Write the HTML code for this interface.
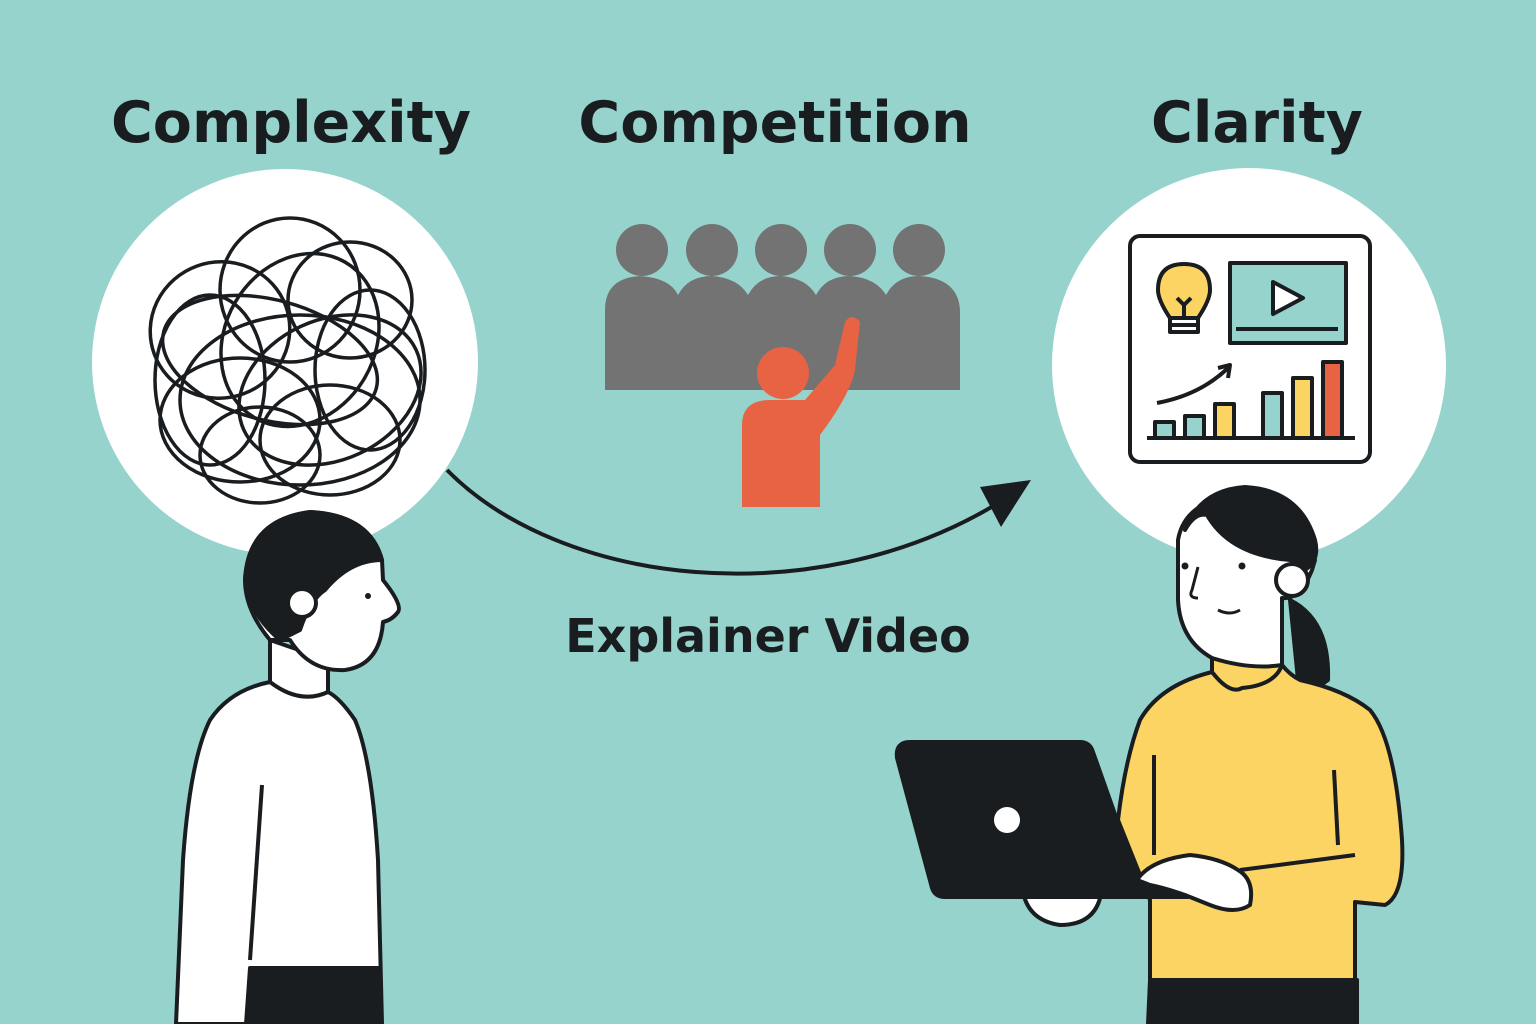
<!DOCTYPE html>
<html><head><meta charset="utf-8"><style>
html,body{margin:0;padding:0;background:#96d3cd;}
svg{display:block}
text{font-family:"DejaVu Sans","Liberation Sans",sans-serif;font-weight:bold;fill:#1a1d20}
</style></head><body>
<svg width="1536" height="1024" viewBox="0 0 1536 1024" xmlns="http://www.w3.org/2000/svg">
<rect width="1536" height="1024" fill="#96d3cd"/>
<text x="291" y="142" font-size="57" text-anchor="middle">Complexity</text>
<text x="775" y="142" font-size="57" text-anchor="middle">Competition</text>
<text x="1257" y="142" font-size="57" text-anchor="middle">Clarity</text>
<text x="768" y="652" font-size="46" text-anchor="middle">Explainer Video</text>

<circle cx="285" cy="362" r="193" fill="#fff"/>
<circle cx="1249" cy="365" r="197" fill="#fff"/>

<!-- scribble -->
<g fill="none" stroke="#1a1d20" stroke-width="3.5">
<ellipse cx="290" cy="290" rx="70" ry="72"/>
<ellipse cx="220" cy="330" rx="70" ry="68" transform="rotate(-20 220 330)"/>
<ellipse cx="350" cy="300" rx="62" ry="58"/>
<ellipse cx="270" cy="360" rx="110" ry="60" transform="rotate(15 270 360)"/>
<ellipse cx="330" cy="390" rx="95" ry="70" transform="rotate(-25 330 390)"/>
<ellipse cx="240" cy="420" rx="80" ry="62"/>
<ellipse cx="330" cy="440" rx="70" ry="55"/>
<ellipse cx="260" cy="455" rx="60" ry="48"/>
<ellipse cx="300" cy="340" rx="75" ry="90" transform="rotate(30 300 340)"/>
<ellipse cx="370" cy="370" rx="55" ry="80"/>
<ellipse cx="210" cy="380" rx="55" ry="85"/>
<ellipse cx="300" cy="400" rx="120" ry="85"/>
</g>

<!-- competition crowd -->
<g fill="#737373">
<circle cx="642" cy="250" r="26"/><circle cx="712" cy="250" r="26"/><circle cx="781" cy="250" r="26"/><circle cx="850" cy="250" r="26"/><circle cx="919" cy="250" r="26"/>
<path d="M605 390 V310 Q605 278 640 276 Q670 278 678 295 Q688 276 712 276 Q738 278 748 295 Q758 276 781 276 Q806 278 816 295 Q826 276 850 276 Q876 278 886 295 Q896 276 919 276 Q958 278 960 310 V390 Z"/>
</g>
<g fill="#e86343">
<circle cx="783" cy="373" r="26"/>
<path d="M742 507 V425 Q742 400 770 400 H805 L835 365 L845 322 Q852 312 860 322 L855 370 Q850 395 820 435 V507 Z"/>
</g>

<!-- arrow -->
<path d="M447 470 C560 585 810 615 995 505" fill="none" stroke="#1a1d20" stroke-width="4"/>
<path d="M1031 480 L980 487 L1001 527 Z" fill="#1a1d20"/>

<!-- clarity board -->
<g stroke="#1a1d20" stroke-width="4" stroke-linejoin="round">
<rect x="1130" y="236" width="240" height="226" rx="10" fill="#fff"/>
<rect x="1230" y="263" width="116" height="80" fill="#96d3cd"/>
<line x1="1236" y1="329" x2="1338" y2="329"/>
<path d="M1273 282 L1303 298 L1273 314 Z" fill="#fff"/>
<path d="M1170 318 Q1158 300 1158 290 Q1158 264 1184 264 Q1210 264 1210 290 Q1210 300 1198 318 Z" fill="#fbd463"/>
<path d="M1177 298 L1184 305 L1191 298 M1184 305 V318" fill="none"/>
<rect x="1170" y="318" width="28" height="14" fill="#fff"/>
<line x1="1170" y1="325" x2="1198" y2="325"/>
<path d="M1157 403 Q1200 395 1228 368" fill="none"/>
<path d="M1218 368 L1230 365 L1228 378" fill="none"/>
<line x1="1147" y1="438" x2="1355" y2="438"/>
<rect x="1155" y="422" width="19" height="16" fill="#96d3cd"/>
<rect x="1185" y="416" width="19" height="22" fill="#96d3cd"/>
<rect x="1215" y="404" width="19" height="34" fill="#fbd463"/>
<rect x="1263" y="393" width="19" height="45" fill="#96d3cd"/>
<rect x="1293" y="378" width="19" height="60" fill="#fbd463"/>
<rect x="1323" y="362" width="19" height="76" fill="#e86343"/>
</g>

<!-- man -->
<g stroke="#1a1d20" stroke-width="4" stroke-linejoin="round">
<path d="M270 640 V682 Q230 690 210 720 Q190 760 183 860 L176 1024 H382 L378 860 Q372 760 355 720 Q340 698 328 692 V660 Z" fill="#fff"/>
<path d="M270 682 Q300 705 328 692" fill="none"/>
<path d="M262 785 L250 960" fill="none"/>
<path d="M250 968 H380 V1024 H246 Z" fill="#1a1d20"/>
<path d="M270 640 Q245 610 245 580 Q248 520 310 512 Q370 515 382 560 L383 580 Q403 605 398 612 Q392 620 383 622 Q380 665 345 670 Q310 672 290 640 Z" fill="#fff"/>
<path d="M245 580 Q248 520 310 512 Q370 515 382 560 Q350 560 325 590 Q310 600 300 630 L280 640 Q250 615 245 580 Z" fill="#1a1d20"/>
<circle cx="302" cy="603" r="14" fill="#fff"/>
</g>
<circle cx="368" cy="596" r="3" fill="#1a1d20"/>

<!-- woman -->
<g stroke="#1a1d20" stroke-width="4" stroke-linejoin="round">
<path d="M1290 600 Q1330 620 1328 680 L1300 700 Z" fill="#1a1d20"/>
<path d="M1212 658 V672 Q1160 685 1140 720 Q1125 760 1118 820 L1150 900 V980 H1355 V902 L1385 905 Q1405 895 1402 840 Q1395 740 1370 710 Q1345 690 1300 680 Q1290 675 1282 665 Z" fill="#fbd463"/>
<path d="M1212 672 Q1230 695 1242 688 Q1275 685 1282 665" fill="none"/>
<path d="M1154 755 V855 M1334 770 L1338 845 M1240 870 L1355 855" fill="none"/>
<path d="M1150 980 H1357 V1024 H1148 Z" fill="#1a1d20"/>
<path d="M1212 658 Q1180 640 1178 600 V540 Q1185 500 1240 495 Q1305 500 1315 560 L1312 570 Q1300 600 1282 598 V665 Q1250 670 1212 658 Z" fill="#fff"/>
<path d="M1207 515 Q1230 555 1290 560 L1305 570 Q1320 560 1315 540 Q1300 490 1245 487 Q1200 490 1185 530 Q1195 512 1207 515 Z" fill="#1a1d20"/>
<circle cx="1292" cy="580" r="16" fill="#fff"/>
<path d="M1198 567 L1192 590 Q1188 598 1198 598 M1218 610 Q1230 616 1240 610" fill="none" stroke-width="3"/>
<path d="M1022 885 Q1025 920 1060 925 Q1100 925 1102 885 Z" fill="#fff"/>
<path d="M910 742 H1080 Q1090 742 1093 752 L1140 885 H1190 Q1195 890 1188 897 H945 Q935 897 932 888 L897 758 Q895 742 910 742 Z" fill="#1a1d20"/>
<path d="M1137 880 Q1150 860 1190 855 Q1220 858 1238 870 Q1255 880 1250 905 Q1235 915 1210 905 L1185 895 Q1165 888 1150 885 Z" fill="#fff"/>
</g>
<circle cx="1242" cy="566" r="3.5" fill="#1a1d20"/>
<circle cx="1185" cy="566" r="3.5" fill="#1a1d20"/>
<circle cx="1007" cy="820" r="13" fill="#fff"/>
</svg>
</body></html>
